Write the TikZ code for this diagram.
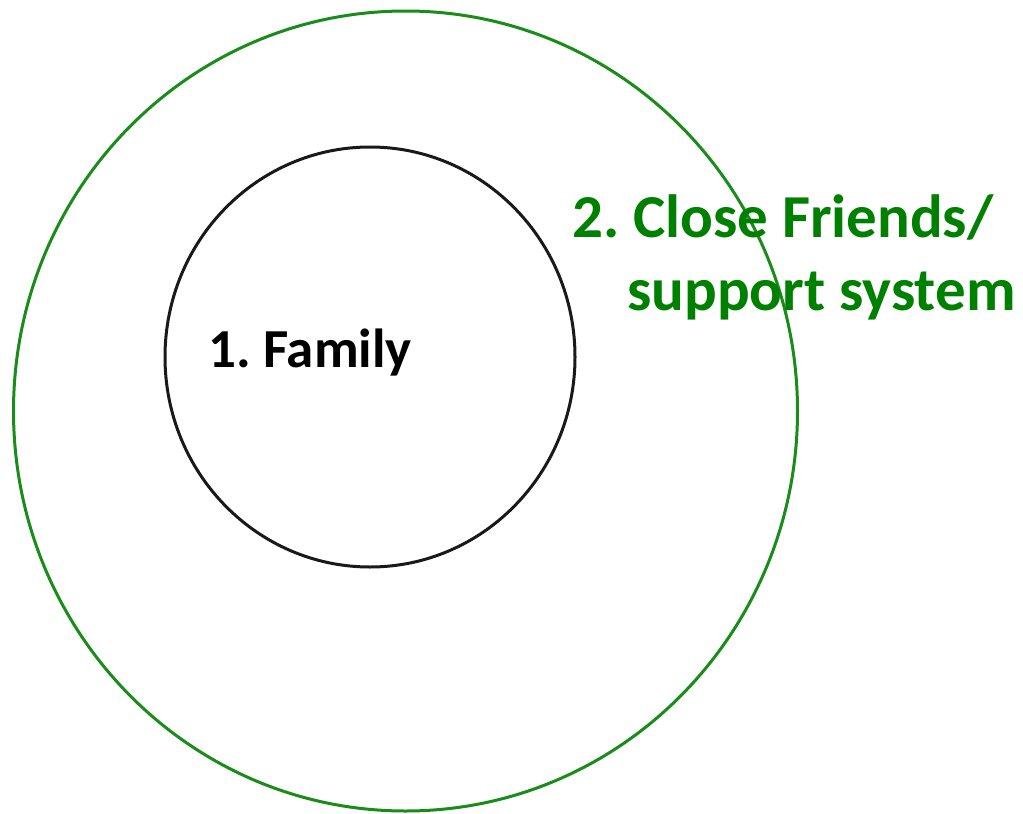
\documentclass[tikz,border=0pt]{standalone}
\usepackage{fontspec}
\setmainfont{Carlito}
\usetikzlibrary{shapes.geometric}
\definecolor{circlegreen}{RGB}{26,140,26}
\definecolor{textgreen}{RGB}{0,128,0}
\tikzset{
    ring/.style={draw, ellipse, line width=3pt, inner sep=0pt, outer sep=0pt},
    ring label/.style={anchor=base west, inner sep=0pt, font=\bfseries\frenchspacing\fontsize{#1}{#1}\selectfont}
}
\begin{document}
\begin{tikzpicture}[x=1pt, y=-1pt]
\useasboundingbox (0,0) rectangle (1023,814);

\node[ring, circlegreen, minimum width=784, minimum height=800] (friends) at (405.5,411) {};
\node[ring, black!90, minimum width=410, minimum height=420] (family) at (370,357) {};

\node[ring label=55] (familytext) at (208,367) {1. Family};
\node[ring label=61, textgreen] (friendstext) at (572,237) {2. Close Friends/};
\node[ring label=61, textgreen] (supporttext) at (627,310) {support system};
%\draw[help lines] (0,0) grid[step=50] (1023,814);
\end{tikzpicture}
\end{document}
